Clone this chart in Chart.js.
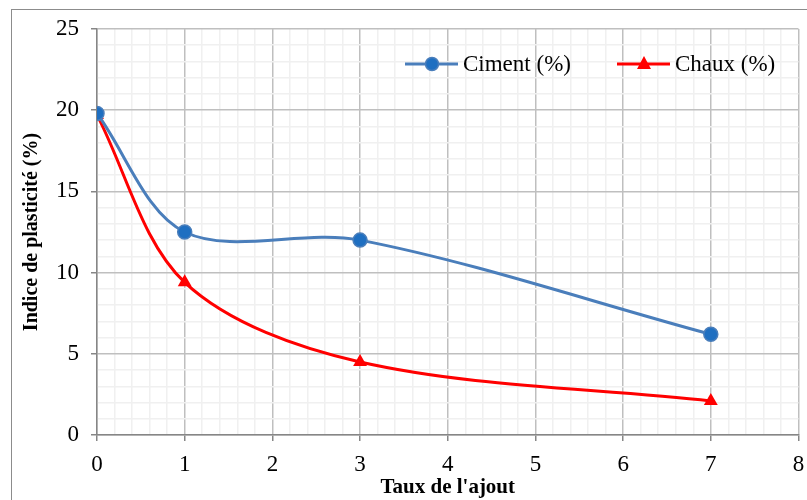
<!DOCTYPE html>
<html lang="fr">
<head>
  <meta charset="UTF-8" />
  <title>Indice de plasticité</title>
  <script src="https://cdn.jsdelivr.net/npm/chart.js"></script>
  <style>
    html, body { margin: 0; padding: 0; background: #fff; overflow: hidden; }
    #wrap { position: relative; width: 807px; height: 500px; }
    #frame { position: absolute; left: 11px; top: 9px; width: 820px; height: 520px; border: 1.5px solid #8c8c8c; box-sizing: border-box; }
    canvas { position: absolute; left: 0; top: 0; }
  </style>
</head>
<body>
  <div id="wrap">
    <div id="frame"></div>
    <canvas id="chart" width="807" height="500"></canvas>
  </div>

  <script>
    // Taux de l'ajout (%)
    const taux = [0, 1, 3, 7];
    // Indice de plasticité (%)
    const ciment = [19.8, 12.5, 12.0, 6.2];
    const chaux = [19.7, 9.4, 4.5, 2.1];

    const serif = "'Liberation Serif', 'Times New Roman', serif";
    const isMajor = (v, step) => Math.abs(v / step - Math.round(v / step)) < 1e-6;

    // légende dessinée dans la zone du graphique (trait + marqueur)
    const legendInside = {
      id: 'legendInside',
      afterDraw(chart) {
        const ctx = chart.ctx;
        const items = [
          { ds: chart.data.datasets[0], x: 405 },
          { ds: chart.data.datasets[1], x: 617 }
        ];
        const y = 64;
        ctx.save();
        items.forEach(it => {
          ctx.strokeStyle = it.ds.borderColor;
          ctx.lineWidth = 3;
          ctx.beginPath();
          ctx.moveTo(it.x, y);
          ctx.lineTo(it.x + 53, y);
          ctx.stroke();
          const mx = it.x + 27;
          ctx.fillStyle = it.ds.pointBackgroundColor;
          if (it.ds.pointStyle === 'triangle') {
            ctx.beginPath();
            ctx.moveTo(mx, y - 8);
            ctx.lineTo(mx + 7, y + 5);
            ctx.lineTo(mx - 7, y + 5);
            ctx.closePath();
            ctx.fill();
          } else {
            ctx.beginPath();
            ctx.arc(mx, y, 6.5, 0, Math.PI * 2);
            ctx.fill();
            ctx.lineWidth = 1.5;
            ctx.strokeStyle = it.ds.pointBorderColor;
            ctx.stroke();
          }
          ctx.fillStyle = '#000';
          ctx.font = '23px ' + serif;
          ctx.textBaseline = 'middle';
          ctx.fillText(it.ds.label, it.x + 58, y + 1);
        });
        ctx.restore();
      }
    };

    new Chart(document.getElementById('chart'), {
      type: 'line',
      data: {
        datasets: [
          {
            label: 'Ciment (%)',
            data: taux.map((x, i) => ({ x, y: ciment[i] })),
            borderColor: '#4a7ebb',
            borderWidth: 3,
            pointStyle: 'circle',
            pointRadius: 7,
            pointBackgroundColor: '#1f6fc1',
            pointBorderColor: '#4a7ebb',
            pointBorderWidth: 1.5,
            tension: 0.33
          },
          {
            label: 'Chaux (%)',
            data: taux.map((x, i) => ({ x, y: chaux[i] })),
            borderColor: '#ff0000',
            borderWidth: 3,
            pointStyle: 'triangle',
            pointRadius: 8,
            pointBackgroundColor: '#ff0000',
            pointBorderColor: '#ff0000',
            pointBorderWidth: 0,
            tension: 0.33
          }
        ]
      },
      options: {
        responsive: false,
        animation: false,
        layout: { padding: { left: 0, top: 29, right: 3, bottom: 0 } },
        plugins: { legend: { display: false }, tooltip: { enabled: false } },
        scales: {
          x: {
            type: 'linear',
            min: 0,
            max: 8,
            afterFit: s => { s.height = 65; s.paddingRight = 0; },
            border: { color: '#868686', width: 1.5 },
            grid: {
              color: c => isMajor(c.tick.value, 1) ? '#bfbfbf' : '#f0f0f0',
              lineWidth: 1.5,
              tickColor: c => isMajor(c.tick.value, 1) ? '#868686' : 'rgba(0,0,0,0)',
              tickLength: 6,
              tickWidth: 1.5
            },
            ticks: {
              stepSize: 0.2,
              autoSkip: false,
              maxRotation: 0,
              padding: 10,
              color: '#000',
              font: { family: serif, size: 23 },
              callback: v => isMajor(v, 1) ? Math.round(v) : ''
            },
            title: {
              display: true,
              text: "Taux de l'ajout",
              color: '#000',
              font: { family: serif, size: 21, weight: 'bold' },
              padding: { top: 0, bottom: 0 }
            }
          },
          y: {
            min: 0,
            max: 25,
            afterFit: s => { s.width = 97; },
            border: { color: '#868686', width: 1.5 },
            grid: {
              color: c => isMajor(c.tick.value, 5) ? '#bfbfbf' : '#f0f0f0',
              lineWidth: 1.5,
              tickColor: c => isMajor(c.tick.value, 5) ? '#868686' : 'rgba(0,0,0,0)',
              tickLength: 6,
              tickWidth: 1.5
            },
            ticks: {
              stepSize: 1,
              autoSkip: false,
              padding: 12,
              color: '#000',
              font: { family: serif, size: 23 },
              callback: v => isMajor(v, 5) ? v : ''
            },
            title: {
              display: true,
              text: 'Indice de plasticité (%)',
              color: '#000',
              font: { family: serif, size: 20, weight: 'bold' },
              padding: { top: 20, bottom: 0 }
            }
          }
        }
      },
      plugins: [legendInside]
    });
  </script>
</body>
</html>
